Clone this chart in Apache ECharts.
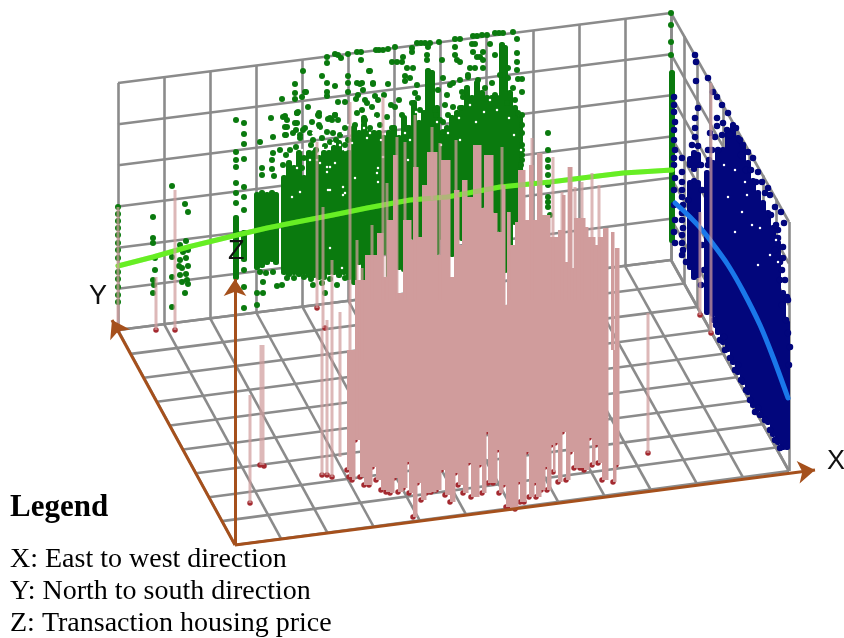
<!DOCTYPE html>
<html><head><meta charset="utf-8">
<style>html,body{margin:0;padding:0;background:#fff}#c{width:844px;height:638px;filter:blur(0.4px)}</style>
<script src="https://cdn.jsdelivr.net/npm/echarts@6/dist/echarts.min.js"></script>
</head><body><div id="c"></div>
<script>
var backEdge = [[118,330],[671,260]];
var frontEdge = [[235,545],[789,471]];
var backTop = [[118,83],[671,13]];
var sideTop = [789,222];
var cellsAcross = 12, cellsDeep = 9, cellsHigh = 6;

var greenLine = [[118,266],[153,257],[188,247],[233,236],[267,228],[297,222],[333,215],[367,208],[410,200],[447,197],[500,187],[550,182],[590,177],[623,173],[672,170]];
var blueLine = [[675,203],[690,217],[703,231],[713,244],[728,265],[743,291],[760,325],[773,357],[788,398]];

var greenColumns = [
[236,215,280],[244,230,262],[257,192,270],[262,190,268],[267,192,265],[272,190,262],[276,192,265],
[284,175,275],[289,160,277],[294,165,275],[299,150,277],[304,175,275],[309,150,278],[314,150,278],[319,155,280],[324,150,280],[329,150,275],[334,145,275],[339,140,278],[344,150,275],[349,150,280],
[354,125,285],[359,130,265],[364,115,290],[369,130,290],[374,130,270],[379,130,255],[384,135,255],[389,130,278],[394,125,270],[399,135,270],[404,115,272],[409,125,240],[414,100,240],[419,120,250],[424,110,237],[428,68,200],[432,70,250],[437,105,255],[442,130,240],[447,125,250],[452,115,257],[457,110,240],[462,105,241],[467,85,200],[472,95,200],[477,80,208],[482,90,208],[487,95,210],[492,95,213],[497,95,232],[502,42,240],[505,45,273],[510,90,260],[515,105,225],[520,115,175],
[672,70,243]];
var greenDots = [
[118,207],[118,214],[118,221],[118,228],[118,235],[118,243],[118,250],[118,258],[118,272],[118,279],[118,287],[118,295],[118,302],
[153,217],[153,238],[153,243],[155,258],[155,270],[153,280],[154,285],[153,293],[172,186],[185,204],[188,212],[172,257],[172,277],[172,307],
[180,245],[186,241],[183,252],[188,250],[180,260],[186,258],[182,268],[188,266],[180,275],[186,274],[182,282],[188,284],[185,293],[179,266],[187,280],
[236,120],[244,123],[244,134],[244,144],[236,152],[236,160],[236,167],[244,159],[236,183],[244,187],[236,193],[244,197],[236,203],[244,210],
[244,270],[244,287],[244,308],[236,287],[257,305],[257,293],[263,293],[263,282],[277,286],[282,285],[262,168],[260,142],[272,169],[273,137],[273,153],[272,160],[271,118],[274,176],[262,175],[280,150],[260,272],[266,273],[273,272],
[282,99],[295,84],[295,93],[303,71],[305,92],[302,97],[308,107],[297,113],[285,116],[287,120],[285,127],[297,123],[296,130],[286,135],
[327,57],[327,63],[335,54],[338,55],[341,58],[348,54],[357,52],[361,52],[376,50],[379,50],[383,50],[388,49],[361,60],[369,71],[322,76],[348,76],[327,83],[335,86],[348,83],[357,83],[362,83],[373,83],[295,99],[306,92],[327,92],[327,96],[348,92],[363,90],[358,95],[338,102],[345,102],[356,99],[365,100],[375,96],[298,112],[319,113],[319,116],[335,115],[328,119],[332,120],[319,125],[305,128],[300,135],[312,122],
[395,47],[412,48],[412,52],[417,43],[421,43],[425,43],[430,43],[428,47],[439,42],[392,62],[397,62],[403,57],[402,62],[442,60],[370,71],[407,68],[413,68],[427,55],[427,60],[405,76],[410,78],[405,81],[388,84],[373,84],[360,84],[443,78],[384,95],[399,100],[391,105],[378,100],[445,105],[438,90],[417,85],[418,98],
[513,32],[503,33],[499,33],[495,33],[487,35],[482,35],[477,36],[473,36],[460,39],[455,39],[517,39],[455,47],[490,44],[472,44],[475,44],[483,52],[495,55],[473,52],[517,53],[455,55],[457,60],[460,62],[480,57],[477,57],[483,60],[517,62],[470,68],[475,68],[483,68],[517,70],[518,79],[522,79],[522,92],[522,115],[522,145],[522,150],[522,155],[522,160],[521,165],[521,172],[468,75],[460,80],[450,85],[447,95],[462,92],[443,122],[436,115],
[548,133],[548,150],[548,160],[548,167],[548,175],[548,185],[548,197],[548,202],[548,207],[550,215],
[671,13],[671,25],[671,42],[671,55],
[283,117],[287,127],[285,135],[297,113],[295,123],[293,133],[303,130],[300,138],[310,133],[313,140],[318,115],[320,127],[327,132],[322,138],[330,118],[335,115],[338,120],[333,133],[340,135],[345,128],[330,142],[348,140],[357,113],[362,110],[367,103],[372,107],[377,115],[365,120],[355,125],[370,128],[380,125],[387,117],[395,107],[392,128],[402,115],[407,128],[412,103],[415,93],[420,110],[435,110],[440,120],[443,132],[448,115],
[290,150],[296,147],[304,158],[302,168],[283,165],[286,155],[311,145],[316,150],[325,146],[336,140],[345,145],
[287,278],[294,278],[304,277],[313,285],[322,283],[337,285],[325,293],[311,279],[330,279],[345,278],
[453,83],[463,97],[468,77],[478,80],[460,108],[453,107],[485,88],[492,83],[495,95],[508,68],[500,75],[513,88],[507,103],[518,113],[522,133],[508,78],[515,100],[522,125]];
var greenGaps = [[327,167],[327,172],[330,190],[292,197],[300,192],[345,193],[313,133],[333,143],[377,173],[330,167],[328,190],[343,187],[343,195],[378,168],[378,182],[330,248],[342,268],[408,160],[317,160],[340,145],[343,133],[367,138],[405,133],[448,133],[460,140],[320,163],[335,163],[323,148],[383,157],[410,140],[360,123],[370,133],[400,110],[387,123],[345,150],[355,178],
[302,150],[318,130],[310,160],[293,155],[297,168],[348,125],[352,143],[364,128],[375,118],[392,118],[381,140],[416,112],[437,122],[441,145],[459,118],[470,105],[484,112],[490,100],[509,118],[514,135],[497,110],[476,122],[521,150]];

var blueColumns = [[694,178,280],[690,180,270],[698,180,278],[694,150,172],[690,156,168],[698,152,168],[707,170,315],
[713,160,317],[718,150,335],[723,147,345],[728,130,352],[733,122,365],[738,135,375],[743,145,385],[748,160,395],[753,178,408],[758,190,412],[763,200,418],[768,210,425],[773,225,437],[778,240,445],[783,290,450],[787,320,450]];
var blueDots = [[674,97],[674,105],[674,112],[675,122],[674,130],[674,140],[675,150],[674,158],[674,165],[675,178],[674,190],[674,205],[675,220],[674,232],[675,243],
[682,158],[682,172],[682,182],[682,190],[682,197],[683,205],[682,213],[682,220],[683,228],[682,235],[682,243],[683,250],[682,255],
[695,55],[696,62],[696,81],[698,108],[695,118],[695,128],[695,137],[708,78],[713,92],[717,97],[722,105],[728,113],[717,118],[723,123],[717,126],[727,130],[710,133],[708,150],[715,137],[722,135],[730,135],[718,150],
[740,140],[743,145],[748,152],[753,158],[758,172],[762,182],[768,188],[770,195],[775,207],[781,212],[784,223],[778,230],[783,247],[778,238],[782,270],[787,297],[788,333],[790,347],[785,280],[782,305],[786,320],[789,365],[788,300],[783,258],
[692,145],[698,146],[701,165],[702,190],[688,200],[702,245],[686,262],[701,285],[704,270],[709,160],[708,165],[712,150],[736,128],[741,155],[746,170],[751,170],[756,182],[765,193],[771,215],[776,225],[780,262],[775,250],[780,280],
[716,325],[720,340],[725,350],[730,358],[735,370],[741,380],[746,390],[750,400],[755,412],[760,415],[765,420],[770,430],[775,440],[780,448],[714,320],[724,337],[738,365],[758,408]];
var blueGaps = [[735,170],[745,182],[760,228],[742,212],[747,195],[752,225],[728,197],[770,255],[776,240],[778,262],[735,232],[758,265],[724,165]];

// pink mass: upper edge as [left x, top y], last entry only closes the run
var massTop = [[355,280],[365,255],[377,233],[383,277],[387,220],[393,155],[397,293],[403,220],[411,240],[413,167],[418,237],[422,185],[427,152],[437,255],[441,160],[450,277],[454,190],[459,245],[462,180],[467,197],[473,145],[481,208],[484,155],[493,213],[497,232],[502,185],[505,305],[507,212],[510,245],[515,222],[518,170],[525,220],[529,165],[533,220],[537,153],[542,215],[550,237],[558,230],[562,195],[565,262],[568,167],[572,268],[574,218],[585,227],[588,237],[595,245],[598,237],[603,228],[608,350],[611,232],[614,350],[615,248],[619,350]];
// pink mass: lower edge as [left x, bottom y]
var massBase = [[347,470],[349,477],[352,480],[355,440],[360,477],[364,485],[369,485],[372,467],[376,480],[381,490],[386,492],[390,493],[394,478],[398,492],[403,488],[407,462],[409,493],[413,517],[417,483],[421,500],[426,493],[431,492],[436,490],[441,470],[445,495],[450,502],[455,473],[458,485],[463,493],[468,463],[471,497],[479,465],[482,493],[486,432],[488,483],[493,483],[497,450],[499,493],[503,485],[506,507],[510,508],[515,509],[518,482],[520,502],[524,502],[526,452],[529,497],[534,483],[536,497],[541,490],[545,467],[547,490],[551,445],[553,472],[555,443],[558,482],[562,432],[566,480],[570,452],[574,468],[580,468],[584,470],[589,438],[592,465],[595,445],[598,463],[602,480],[608,350],[611,350],[613,482],[616,465],[619,350]];

// thin pale stems: [x, top y, floor y]
var stems = [[118,207,330],[156,277,330],[175,190,330],[250,395,503],[317,142,308],[323,207,328],[322,330,475],[327,320,475],[332,260,477],[340,312,457],[350,102,350],[357,240,440],[362,268,360],[372,225,300],[383,97,300],[387,183,300],[397,137,300],[405,142,300],[415,115,300],[432,127,200],[440,143,300],[456,140,200],[502,147,300],[509,212,300],[532,138,300],[553,157,300],[562,192,300],[569,167,300],[575,187,300],[582,182,300],[592,173,300],[599,185,300],[648,313,453],[700,212,315],[711,83,333]];
var wideStems = [[262,345,465]];
var stemFeet = [[118,330],[156,330],[175,330],[250,503],[260,465],[264,466],[317,308],[325,328],[322,475],[327,475],[332,477],[648,453],[700,315],[711,333]];

var axisLines = [{from:[235,545],to:[235,279]},{from:[235,545],to:[112,320]},{from:[235,545],to:[815,470]}];
var axisLetters = [{t:'X',x:827,y:462},{t:'Y',x:89,y:297},{t:'Z',x:228,y:252}];
var legendTitle = 'Legend';
var legendLines = ['X: East to west direction','Y: North to south direction','Z: Transaction housing price'];

function lerp(a,b,t){return [a[0]+(b[0]-a[0])*t,a[1]+(b[1]-a[1])*t];}
var gridSegs = [], i;
var backBottomL = backEdge[0], backBottomR = backEdge[1];
for(i=0;i<=cellsAcross;i++){var t=i/cellsAcross;
  gridSegs.push({coords:[lerp(backTop[0],backTop[1],t),lerp(backBottomL,backBottomR,t)]});
  gridSegs.push({coords:[lerp(backBottomL,backBottomR,t),lerp(frontEdge[0],frontEdge[1],t)]});}
for(i=0;i<=cellsHigh;i++){var t=i/cellsHigh;
  gridSegs.push({coords:[lerp(backTop[0],backBottomL,t),lerp(backTop[1],backBottomR,t)]});
  gridSegs.push({coords:[lerp(backTop[1],backBottomR,t),lerp(sideTop,frontEdge[1],t)]});}
for(i=0;i<=cellsDeep;i++){var t=i/cellsDeep;
  gridSegs.push({coords:[lerp(backBottomL,frontEdge[0],t),lerp(backBottomR,frontEdge[1],t)]});
  gridSegs.push({coords:[lerp(backTop[1],sideTop,t),lerp(backBottomR,frontEdge[1],t)]});}

function columnSeries(data,width,color,z,r){
  return {type:'custom',coordinateSystem:'cartesian2d',z:z,silent:true,clip:false,data:data,encode:{x:0,y:1},
    renderItem:function(p,api){
      var a=api.coord([api.value(0),api.value(1)]),b=api.coord([api.value(0),api.value(2)]);
      return {type:'rect',shape:{x:a[0]-width/2,y:a[1],width:width,height:b[1]-a[1],r:r},style:{fill:color}};
    }};
}
function runSeries(rows,fixedY,color,z){
  var data=[];
  for(var k=0;k<rows.length-1;k++){data.push([rows[k][0],rows[k+1][0],rows[k][1]]);}
  return {type:'custom',coordinateSystem:'cartesian2d',z:z,silent:true,clip:false,data:data,encode:{x:[0,1],y:2},
    renderItem:function(p,api){
      var a=api.coord([api.value(0),api.value(2)]),b=api.coord([api.value(1),fixedY]);
      return {type:'rect',shape:{x:a[0],y:Math.min(a[1],b[1]),width:b[0]-a[0]+0.5,height:Math.abs(b[1]-a[1])},style:{fill:color}};
    }};
}
function dots(data,size,color,z){return {type:'scatter',data:data,symbolSize:size,itemStyle:{color:color,opacity:1},z:z,silent:true,clip:false,animation:false};}
function polyline(data,width,color,z,op,smooth){return {type:'line',data:data,showSymbol:false,smooth:smooth||false,lineStyle:{width:width,color:color,opacity:op,cap:'round',join:'round'},z:z,silent:true,clip:false};}

var GREEN='#0a7a0e',BLUE='#02067c',PINK='#d09c9c',STEM='rgba(208,156,156,0.72)',GREY='#8b8b8b',BROWN='#a5501c';
var footColor='#a42a30';
var baseFeet = massBase.filter(function(r){return r[1]>350;});

var series = [
 {type:'lines',coordinateSystem:'cartesian2d',z:1,silent:true,data:gridSegs,lineStyle:{color:GREY,width:2.6,opacity:1},polyline:false},
 columnSeries(blueColumns,6,BLUE,2,2.5),
 dots(blueDots,6.5,BLUE,2),
 dots(blueGaps,2.5,'#ffffff',3),
 columnSeries(greenColumns,6,GREEN,2,2.5),
 dots(greenDots,6,GREEN,2),
 dots(greenGaps,2.5,'#ffffff',3),
 polyline(greenLine,5,'#68ee24',4,1),
 polyline(blueLine,5,'#1a78ea',4,1,0.3),
 dots(baseFeet,5.5,footColor,5),
 dots(stemFeet,5.5,footColor,5),
 runSeries(massTop,350,PINK,6),
 runSeries(massBase,350,PINK,6),
 polyline(greenLine,5,'#68ee24',7,0.3),
 columnSeries(stems,3,STEM,8,0),
 columnSeries(wideStems,5,STEM,8,0),
 {type:'lines',coordinateSystem:'cartesian2d',z:9,silent:true,symbol:['none','arrow'],symbolSize:[0,17],
  data:axisLines.map(function(a){return {coords:[a.from,a.to]};}),lineStyle:{color:BROWN,width:3,opacity:1}}
];

var graphics = axisLetters.map(function(l){return {type:'text',x:l.x,y:l.y,z:20,style:{text:l.t,fill:'#111',font:'27px "Liberation Sans",sans-serif',textVerticalAlign:'middle'}};});
graphics.push({type:'text',x:10,y:508,z:20,style:{text:legendTitle,fill:'#000',font:'bold 31px "Liberation Serif",serif',textVerticalAlign:'middle'}});
legendLines.forEach(function(s,n){graphics.push({type:'text',x:10,y:560+n*32,z:20,style:{text:s,fill:'#000',font:'28px "Liberation Serif",serif',textVerticalAlign:'middle'}});});

var chart = echarts.init(document.getElementById('c'),null,{renderer:'canvas'});
chart.setOption({animation:false,backgroundColor:'#fff',
  grid:{left:0,right:0,top:0,bottom:0},
  xAxis:{type:'value',min:0,max:844,show:false},
  yAxis:{type:'value',min:0,max:638,inverse:true,show:false},
  tooltip:{show:false},legend:{show:false},
  series:series,graphic:{elements:graphics}});
</script></body></html>
